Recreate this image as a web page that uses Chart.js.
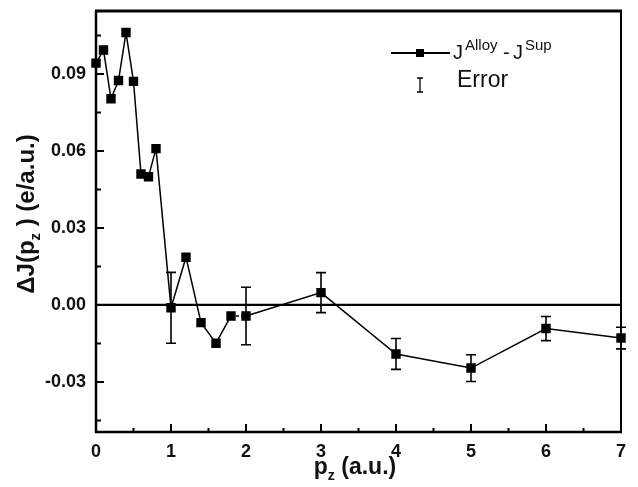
<!DOCTYPE html>
<html>
<head>
<meta charset="utf-8">
<script src="https://cdn.jsdelivr.net/npm/chart.js@4.4.1/dist/chart.umd.min.js"></script>
<style>
  html, body { margin: 0; padding: 0; background: #fff; }
</style>
</head>
<body>
<canvas id="chart" width="638" height="487"></canvas>
<script>
// momentum values (a.u.) and difference profile J_Alloy - J_Sup
const pz = [0, 0.1, 0.2, 0.3, 0.4, 0.5, 0.6, 0.7, 0.8, 1.0, 1.2, 1.4, 1.6, 1.8, 2.0, 3, 4, 5, 6, 7];
const dJ = [0.0942, 0.0993, 0.0803, 0.0874, 0.1061, 0.0871, 0.0510, 0.0499, 0.0609, -0.0011,
            0.0186, -0.0069, -0.0149, -0.0043, -0.0043, 0.0048, -0.0191, -0.0246, -0.0092, -0.0129];
// half length of error bars, null where none is drawn
const errHalf = [null, null, null, null, null, null, null, null, null, 0.0138,
                 null, null, null, null, 0.0112, 0.0078, 0.0060, 0.0052, 0.0047, 0.0042];

const xMajor = [0, 1, 2, 3, 4, 5, 6, 7];
const xMinor = [0.5, 1.5, 2.5, 3.5, 4.5, 5.5, 6.5];
const yMajor = [-0.03, 0, 0.03, 0.06, 0.09];
const yMinor = [-0.045, -0.015, 0.015, 0.045, 0.075, 0.105];

const FONT = "'Liberation Sans', Arial, sans-serif";

const errorBars = {
    id: 'errorBars',
    beforeDatasetsDraw(chart) {
        const { ctx, scales: { x, y } } = chart;
        ctx.save();
        ctx.strokeStyle = '#000';
        ctx.lineWidth = 1.6;
        pz.forEach((p, i) => {
            if (errHalf[i] == null) return;
            const px = x.getPixelForValue(p);
            const top = y.getPixelForValue(dJ[i] + errHalf[i]);
            const bot = y.getPixelForValue(dJ[i] - errHalf[i]);
            ctx.beginPath();
            ctx.moveTo(px, top); ctx.lineTo(px, bot);
            ctx.moveTo(px - 5, top); ctx.lineTo(px + 5, top);
            ctx.moveTo(px - 5, bot); ctx.lineTo(px + 5, bot);
            ctx.stroke();
        });
        ctx.restore();
    }
};

const frame = {
    id: 'frame',
    afterDraw(chart) {
        const { ctx, chartArea: a, scales: { x, y } } = chart;
        ctx.save();
        ctx.strokeStyle = '#000';
        // box
        ctx.lineWidth = 3;
        ctx.beginPath(); ctx.moveTo(a.left - 1, a.top); ctx.lineTo(a.right + 1, a.top); ctx.stroke();
        ctx.lineWidth = 2.5;
        ctx.beginPath(); ctx.moveTo(a.left, a.top); ctx.lineTo(a.left, a.bottom + 1); ctx.stroke();
        ctx.beginPath(); ctx.moveTo(a.left - 1, a.bottom); ctx.lineTo(a.right + 1, a.bottom); ctx.stroke();
        ctx.lineWidth = 2;
        ctx.beginPath(); ctx.moveTo(a.right, a.top); ctx.lineTo(a.right, a.bottom); ctx.stroke();

        // inward ticks
        ctx.lineWidth = 2;
        ctx.beginPath();
        xMajor.forEach(v => { const p = x.getPixelForValue(v); ctx.moveTo(p, a.bottom); ctx.lineTo(p, a.bottom - 8); });
        xMinor.forEach(v => { const p = x.getPixelForValue(v); ctx.moveTo(p, a.bottom); ctx.lineTo(p, a.bottom - 4); });
        yMajor.forEach(v => { const p = y.getPixelForValue(v); ctx.moveTo(a.left, p); ctx.lineTo(a.left + 8, p); });
        yMinor.forEach(v => { const p = y.getPixelForValue(v); ctx.moveTo(a.left, p); ctx.lineTo(a.left + 5, p); });
        ctx.stroke();

        // axis titles with subscripts
        ctx.fillStyle = '#111';
        ctx.textBaseline = 'alphabetic';
        const drawPieces = (pieces, startX, baseY) => {
            let cx = startX;
            pieces.forEach(([txt, size, dy]) => {
                ctx.font = `bold ${size}px ${FONT}`;
                ctx.fillText(txt, cx, baseY + dy);
                cx += ctx.measureText(txt).width;
            });
        };
        const measure = pieces => pieces.reduce((w, [txt, size]) => {
            ctx.font = `bold ${size}px ${FONT}`;
            return w + ctx.measureText(txt).width;
        }, 0);

        const xt = [['p', 23, 0], ['z', 14, 6], [' (a.u.)', 23, 0]];
        drawPieces(xt, 355 - measure(xt) / 2, 474);

        const yt = [['\u0394J(p', 24, 0], ['z', 15, 6], [' ) (e/a.u.)', 24, 0]];
        ctx.save();
        ctx.translate(34, 214);
        ctx.rotate(-Math.PI / 2);
        drawPieces(yt, -measure(yt) / 2, 0);
        ctx.restore();

        // legend
        ctx.lineWidth = 1.8;
        ctx.beginPath(); ctx.moveTo(391, 53); ctx.lineTo(450, 53); ctx.stroke();
        ctx.fillStyle = '#000';
        ctx.fillRect(416, 49, 8, 8);
        ctx.fillStyle = '#111';
        ctx.font = `20px ${FONT}`;
        ctx.fillText('J', 453, 59);
        ctx.font = `15px ${FONT}`;
        ctx.fillText('Alloy', 465, 50);
        ctx.font = `20px ${FONT}`;
        ctx.fillText('-', 503, 59);
        ctx.fillText('J', 513, 59);
        ctx.font = `15px ${FONT}`;
        ctx.fillText('Sup', 525, 50);

        ctx.lineWidth = 1.3;
        ctx.beginPath();
        ctx.moveTo(420, 78); ctx.lineTo(420, 92);
        ctx.moveTo(417, 78); ctx.lineTo(423, 78);
        ctx.moveTo(417, 92); ctx.lineTo(423, 92);
        ctx.stroke();
        ctx.font = `23px ${FONT}`;
        ctx.fillText('Error', 457, 87);
        ctx.restore();
    }
};

new Chart(document.getElementById('chart'), {
    type: 'scatter',
    data: {
        datasets: [
            {
                data: pz.map((p, i) => ({ x: p, y: dJ[i] })),
                showLine: true,
                borderColor: '#000',
                backgroundColor: '#000',
                borderWidth: 1.5,
                pointStyle: 'rect',
                pointRadius: 5.6,
                pointHoverRadius: 5.6,
                clip: false,
                segment: {
                    borderDash: c => (c.p0DataIndex === 13 ? [3, 2] : undefined)
                }
            },
            {
                data: [{ x: 0, y: 0 }, { x: 7, y: 0 }],
                showLine: true,
                borderColor: '#000',
                borderWidth: 2.2,
                pointRadius: 0
            }
        ]
    },
    options: {
        responsive: false,
        animation: false,
        layout: { padding: { top: 11, right: 17, left: 0, bottom: 0 } },
        plugins: { legend: { display: false }, tooltip: { enabled: false } },
        scales: {
            x: {
                type: 'linear',
                min: 0,
                max: 7,
                afterFit: s => { s.height = 55; s.paddingLeft = 0; s.paddingRight = 0; },
                afterBuildTicks: s => { s.ticks = xMajor.map(v => ({ value: v })); },
                grid: { display: false, drawTicks: false },
                border: { display: false },
                ticks: {
                    padding: 9,
                    color: '#111',
                    font: { family: FONT, size: 18, weight: 'bold' },
                    callback: v => String(v)
                }
            },
            y: {
                type: 'linear',
                min: -0.0495,
                max: 0.1145,
                afterFit: s => { s.width = 96; s.paddingTop = 0; s.paddingBottom = 0; },
                afterBuildTicks: s => { s.ticks = yMajor.map(v => ({ value: v })); },
                grid: { display: false, drawTicks: false },
                border: { display: false },
                ticks: {
                    padding: 10,
                    color: '#111',
                    font: { family: FONT, size: 18, weight: 'bold' },
                    callback: v => (Math.abs(v) < 1e-9 ? 0 : v).toFixed(2)
                }
            }
        }
    },
    plugins: [errorBars, frame]
});
</script>
</body>
</html>
